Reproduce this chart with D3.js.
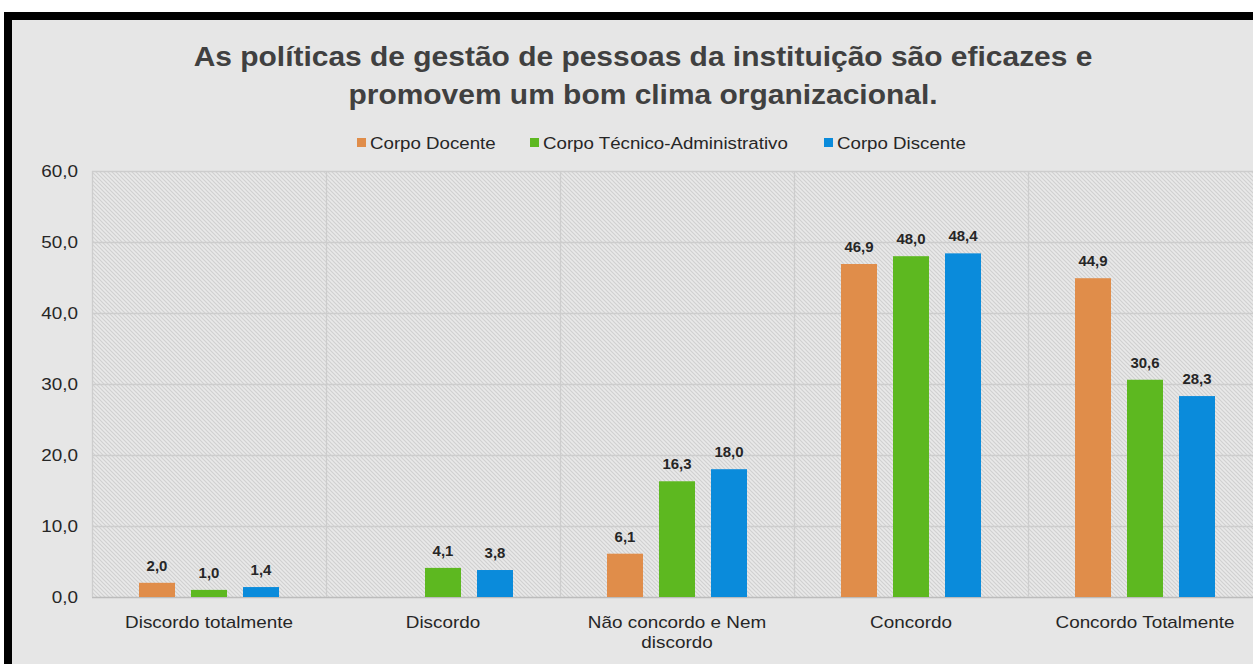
<!DOCTYPE html>
<html>
<head>
<meta charset="utf-8">
<script src="https://cdn.jsdelivr.net/npm/d3@7"></script>
<style>
  body { margin: 0; background: #fff; }
  text { font-family: "Liberation Sans", Arial, sans-serif; }
</style>
</head>
<body>
<script>
// chart data
var categories = ["Discordo totalmente", "Discordo", "Não concordo e Nem discordo", "Concordo", "Concordo Totalmente"];
var series = ["Corpo Docente", "Corpo Técnico-Administrativo", "Corpo Discente"];
var docente = [2.0, null, 6.1, 46.9, 44.9];
var tecnico = [1.0, 4.1, 16.3, 48.0, 30.6];
var discente = [1.4, 3.8, 18.0, 48.4, 28.3];
var yTicks = [0, 10, 20, 30, 40, 50, 60];
var colors = ["#e08d4a", "#5db820", "#0a8bdb"];

var values = [docente, tecnico, discente];

var W = 1253, H = 664;
var plot = {left: 92, right: 1262, top: 171, bottom: 597};

var svg = d3.select("body").append("svg")
    .attr("width", W)
    .attr("height", H);

// hatch pattern for plot area
var defs = svg.append("defs");
var pat = defs.append("pattern")
    .attr("id", "hatch")
    .attr("patternUnits", "userSpaceOnUse")
    .attr("width", 4)
    .attr("height", 4);
pat.append("rect").attr("width", 4).attr("height", 4).attr("fill", "#e9e9e9");
pat.append("path")
    .attr("d", "M-1,-1L5,5M3,-1L5,1M-1,3L1,5")
    .attr("stroke", "#d0d0d0")
    .attr("stroke-width", 1.1);

// frame
svg.append("rect").attr("x", 4).attr("y", 12).attr("width", W).attr("height", H)
    .attr("fill", "#000");
svg.append("rect").attr("x", 12).attr("y", 20).attr("width", W).attr("height", H)
    .attr("fill", "#e6e6e6");

// title
var title = svg.append("text")
    .attr("transform", "translate(643,0) scale(1.07,1)")
    .attr("text-anchor", "middle")
    .attr("font-weight", "bold")
    .attr("font-size", 28)
    .attr("fill", "#404040");
title.append("tspan").attr("x", 0).attr("y", 66).text("As políticas de gestão de pessoas da instituição são eficazes e");
title.append("tspan").attr("x", 0).attr("y", 104).text("promovem um bom clima organizacional.");

// scales
var x0 = d3.scaleBand().domain(categories).range([plot.left, plot.right]).padding(0);
var x1 = d3.scaleBand().domain(series)
    .range([x0.bandwidth() / 2 - 78, x0.bandwidth() / 2 + 78])
    .paddingInner(16 / 52).paddingOuter(8 / 52);
var y = d3.scaleLinear().domain([0, 60]).range([plot.bottom, plot.top]);

// plot background
svg.append("rect")
    .attr("x", plot.left).attr("y", plot.top)
    .attr("width", plot.right - plot.left).attr("height", plot.bottom - plot.top)
    .attr("fill", "url(#hatch)");

// horizontal gridlines
svg.append("g").selectAll("line")
    .data(yTicks)
    .enter().append("line")
    .attr("x1", plot.left).attr("x2", plot.right)
    .attr("y1", function(d) { return Math.round(y(d)) + 0.5; })
    .attr("y2", function(d) { return Math.round(y(d)) + 0.5; })
    .attr("stroke", function(d) { return d === 0 ? "#bcbcbc" : "#cdcdcd"; })
    .attr("stroke-width", 1.3);

// vertical gridlines at category edges
var edges = categories.map(function(c) { return x0(c); });
svg.append("g").selectAll("line")
    .data(edges)
    .enter().append("line")
    .attr("x1", function(d) { return Math.round(d) + 0.5; })
    .attr("x2", function(d) { return Math.round(d) + 0.5; })
    .attr("y1", plot.top).attr("y2", plot.bottom)
    .attr("stroke", "#cdcdcd")
    .attr("stroke-width", 1.3);

// y axis labels
svg.append("g").selectAll("text")
    .data(yTicks)
    .enter().append("text")
    .attr("transform", function(d) { return "translate(78," + (y(d) + 6) + ") scale(1.18,1)"; })
    .attr("text-anchor", "end")
    .attr("font-size", 16)
    .attr("fill", "#262626")
    .text(function(d) { return d3.format(".1f")(d).replace(".", ","); });

// bars
var rows = [];
categories.forEach(function(c, i) {
    series.forEach(function(s, j) {
        if (values[j][i] != null) rows.push({cat: c, ser: s, idx: j, v: values[j][i]});
    });
});

var bars = svg.append("g").selectAll("g")
    .data(rows)
    .enter().append("g")
    .attr("transform", function(d) { return "translate(" + (x0(d.cat) + x1(d.ser)) + ",0)"; });

bars.append("rect")
    .attr("x", 0)
    .attr("width", x1.bandwidth())
    .attr("y", function(d) { return y(d.v); })
    .attr("height", function(d) { return y(0) - y(d.v); })
    .attr("fill", function(d) { return colors[d.idx]; });

bars.append("text")
    .attr("transform", function(d) { return "translate(" + (x1.bandwidth() / 2) + "," + (y(d.v) - 12) + ") scale(1.07,1)"; })
    .attr("text-anchor", "middle")
    .attr("font-size", 14)
    .attr("font-weight", "bold")
    .attr("fill", "#262626")
    .text(function(d) { return d3.format(".1f")(d.v).replace(".", ","); });

// category labels
var catLines = {
    "Não concordo e Nem discordo": ["Não concordo e Nem", "discordo"]
};
var cl = svg.append("g").selectAll("text")
    .data(categories)
    .enter().append("text")
    .attr("transform", function(d) { return "translate(" + (x0(d) + x0.bandwidth() / 2) + ",628) scale(1.18,1)"; })
    .attr("text-anchor", "middle")
    .attr("font-size", 16)
    .attr("fill", "#262626");
cl.each(function(d) {
    var lines = catLines[d] || [d];
    var t = d3.select(this);
    lines.forEach(function(l, k) {
        t.append("tspan").attr("x", 0).attr("y", k * 20).text(l);
    });
});

// legend
var legendX = [357, 530, 824];
var lg = svg.append("g").selectAll("g")
    .data(series)
    .enter().append("g")
    .attr("transform", function(d, i) { return "translate(" + legendX[i] + ",138)"; });
lg.append("rect")
    .attr("width", 9).attr("height", 9)
    .attr("fill", function(d, i) { return colors[i]; });
lg.append("text")
    .attr("transform", "translate(13,11) scale(1.1,1)")
    .attr("font-size", 17)
    .attr("fill", "#262626")
    .text(function(d) { return d; });
</script>
</body>
</html>
